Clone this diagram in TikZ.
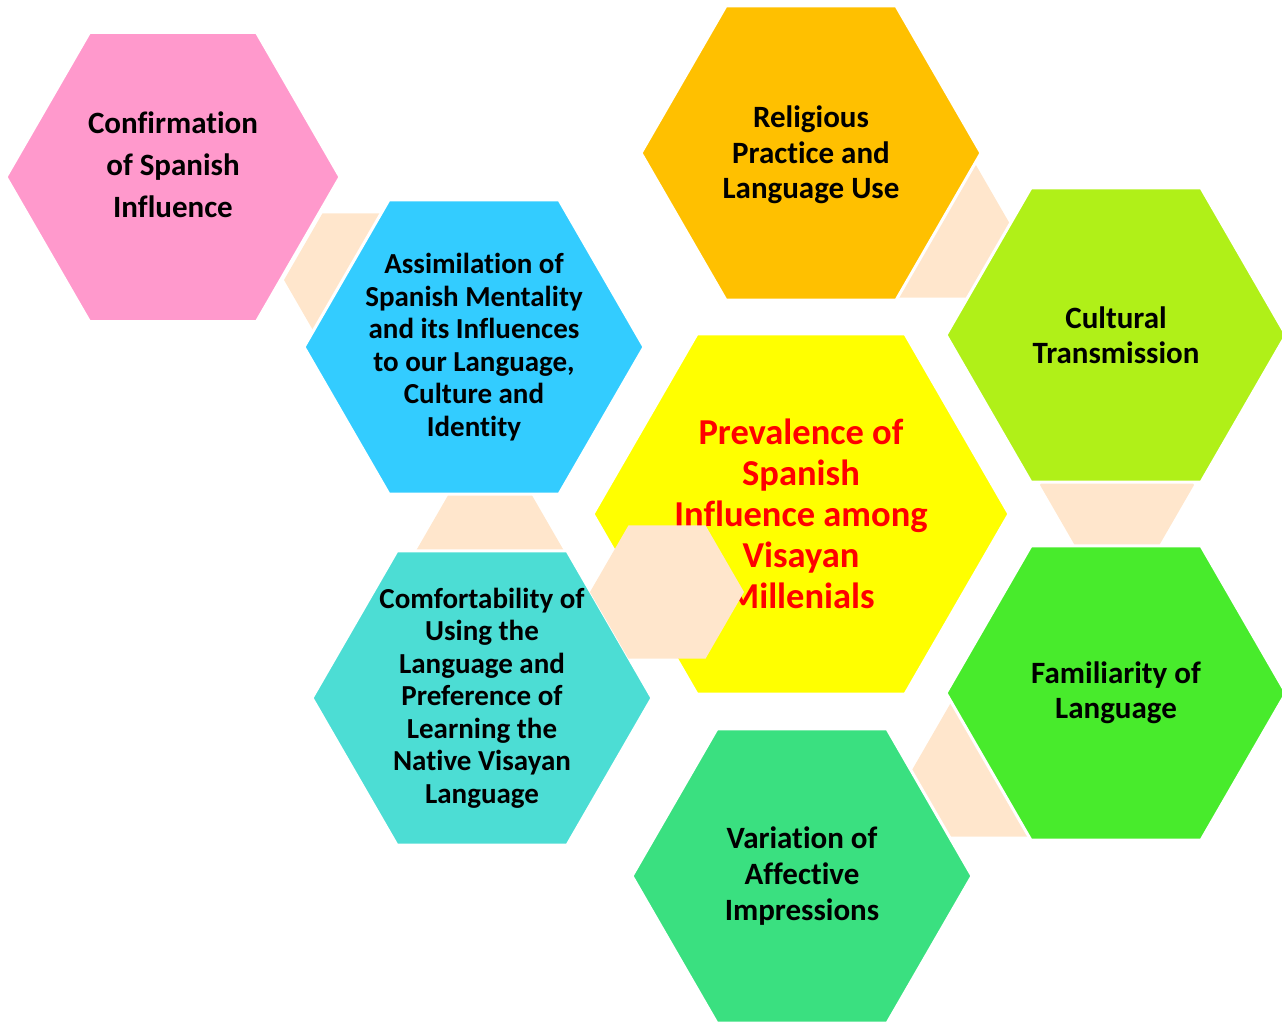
\documentclass[tikz,border=0pt]{standalone}
\usepackage{fontspec}
\setmainfont{Carlito}[Ligatures=NoCommon]
\usetikzlibrary{shapes.geometric}
\definecolor{peach}{HTML}{FFE6CC}
\definecolor{pinkhex}{HTML}{FF99CC}
\definecolor{bluehex}{HTML}{33CCFF}
\definecolor{orangehex}{HTML}{FFC000}
\definecolor{limehex}{HTML}{B0F018}
\definecolor{yellowhex}{HTML}{FFFF00}
\definecolor{greenhex}{HTML}{48EB2C}
\definecolor{tealhex}{HTML}{4CDDD4}
\definecolor{mintehex}{HTML}{3AE080}
\tikzset{
	hexa/.style={regular polygon,regular polygon sides=6,inner sep=0pt,draw=white,line width=3pt,minimum size=340pt},
	link/.style={regular polygon,regular polygon sides=6,inner sep=0pt,fill=peach,minimum size=154pt},
	lbl/.style={align=center,inner sep=0pt}
}
\begin{document}
\begin{tikzpicture}[x=1pt,y=-1pt]
	\useasboundingbox (0,0) rectangle (1282,1021);
	% links behind the cells
	\node[link] (l1) at (361,280) {};
	\node[link] (l2) at (937,231) {};
	\node[link] (l3) at (1117,485) {};
	\node[link] (l4) at (490,556) {};
	\node[link] (l5) at (989,770) {};
	% cells
	\node[hexa,fill=pinkhex,minimum size=334pt] (conf) at (173,177) {};
	\node[hexa,fill=bluehex] (assim) at (474,347) {};
	\node[hexa,fill=orangehex] (relig) at (811,153) {};
	\node[hexa,fill=limehex] (cult) at (1116,335) {};
	\node[hexa,fill=yellowhex,minimum size=416pt] (prev) at (801,514) {};
	\node[hexa,fill=greenhex] (famil) at (1116,693) {};
	\node[hexa,fill=tealhex] (comf) at (482,698) {};
	\node[hexa,fill=mintehex] (vari) at (802,876) {};
	% texts
	\node[lbl,font={\fontsize{31}{42}\selectfont\bfseries}] (conf-t) at ([yshift=12pt]conf.center) {Confirmation\\of Spanish\\Influence};
	\node[lbl,font={\fontsize{29}{32.5}\selectfont\bfseries}] (assim-t) at (assim) {Assimilation of\\Spanish Mentality\\and its Influences\\to our Language,\\Culture and\\Identity};
	\node[lbl,font={\fontsize{31}{35.5}\selectfont\bfseries}] (relig-t) at ([yshift=-2pt]relig.center) {Religious\\Practice and\\Language Use};
	\node[lbl,font={\fontsize{31}{35}\selectfont\bfseries}] (cult-t) at (cult) {Cultural\\Transmission};
	\node[lbl,text=red,font={\fontsize{36.5}{41}\selectfont\bfseries}] (prev-t) at (prev) {Prevalence of\\Spanish\\Influence among\\Visayan\\Millenials};
	\node[lbl,font={\fontsize{31}{35}\selectfont\bfseries}] (famil-t) at (famil) {Familiarity of\\Language};
	\node[lbl,font={\fontsize{29}{32.5}\selectfont\bfseries}] (comf-t) at (comf) {Comfortability of\\Using the\\Language and\\Preference of\\Learning the\\Native Visayan\\Language};
	\node[lbl,font={\fontsize{31}{36}\selectfont\bfseries}] (vari-t) at (vari) {Variation of\\Affective\\Impressions};
	% centre link on top
	\node[link] (l0) at (667,592) {};
\end{tikzpicture}
\end{document}
